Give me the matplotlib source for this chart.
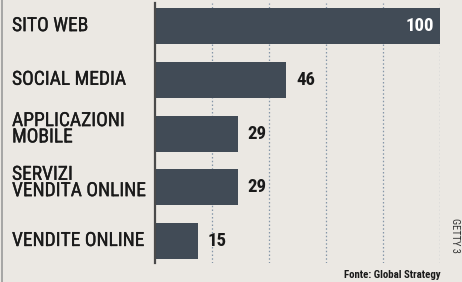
import matplotlib
matplotlib.use("Agg")
import matplotlib.pyplot as plt
import matplotlib.patheffects as pe

categories = ["SITO WEB", "SOCIAL MEDIA", "APPLICAZIONI\nMOBILE", "SERVIZI\nVENDITA ONLINE", "VENDITE ONLINE"]
values = [100, 46, 29, 29, 15]
grid_ticks = [20, 40, 60, 80, 100]
source = "Fonte: Global Strategy"
credit = "GETTY 3"

W, H = 462, 282
bg = "#ebe8e3"
bar_color = "#414b56"
text_color = "#1a1a1a"

fig = plt.figure(figsize=(W / 100, H / 100), dpi=100, facecolor=bg)
# axes: x from 155px to 440px, y from 3px to 263px
ax = fig.add_axes([155 / W, 1 - 263 / H, (440 - 155) / W, (263 - 3) / H])
ax.set_facecolor("none")
ax.set_xlim(0, 100)
ax.set_ylim(4.41, -0.43)

ypos = list(range(len(categories)))
for g in grid_ticks:
    ax.axvline(g, color="#8496a8", lw=0.9, ls=(0, (1.2, 1.8)), zorder=1)
ax.barh(ypos, values, height=0.67, color=bar_color, zorder=2)

for sp in ["top", "right", "bottom"]:
    ax.spines[sp].set_visible(False)
ax.spines["left"].set_color("#4a4a4a")
ax.spines["left"].set_linewidth(1.6)
ax.set_xticks([])
ax.set_yticks([])

label_font = ["Roboto Condensed", "Roboto", "DejaVu Sans"]
thicken = [pe.withStroke(linewidth=0.25, foreground=text_color)]
for y, cat in zip(ypos, categories):
    dy = -0.08 if "\n" in cat else 0
    ax.text(-143 / 2.85, y + dy, cat, ha="left", va="center", fontsize=14.0,
            family=label_font, fontweight="normal", color=text_color,
            linespacing=0.88, clip_on=False, path_effects=thicken)

for y, v in zip(ypos, values):
    if v >= 90:
        ax.text(v - 2.1, y, str(v), ha="right", va="center", fontsize=13.5,
                family=label_font, fontweight="bold", color="white", zorder=3)
    else:
        ax.text(v + 3.5, y, str(v), ha="left", va="center", fontsize=13.5,
                family=label_font, fontweight="bold", color=text_color, zorder=3)

fig.text(441 / W, 1 - 275 / H, source, ha="right", va="center", fontsize=7.8,
         family=label_font, fontweight="bold", color=text_color)
fig.text(455 / W, 1 - 235 / H, credit, ha="center", va="center", fontsize=7.5,
         family=label_font, rotation=270, color="#333333")

fig.add_artist(plt.Line2D([1.5 / W, 1.5 / W], [0, 1], color="#9a9a9a", lw=1.2,
                          transform=fig.transFigure))

fig.savefig("out.png", dpi=100, facecolor=bg)
